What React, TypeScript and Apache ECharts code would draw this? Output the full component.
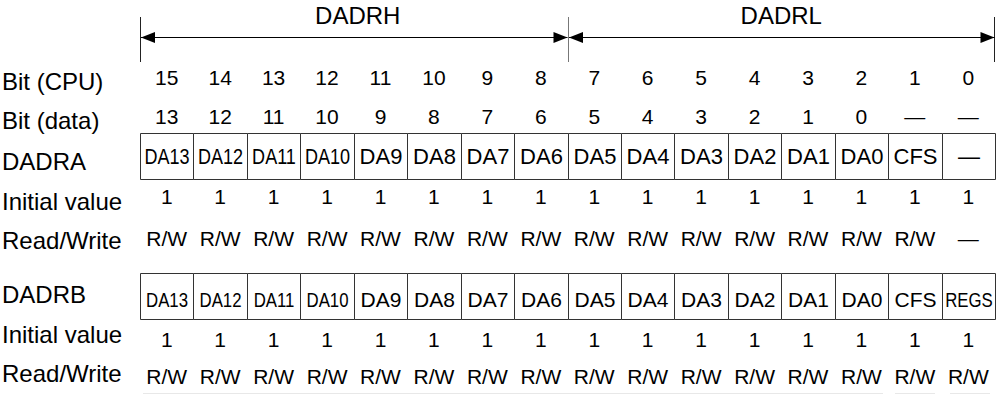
import { useEffect, useRef } from "react";
import * as echarts from "echarts";

const FONT = "Arial, 'Liberation Sans', Helvetica, sans-serif";

// ---------- data ----------
const groupNames = ["DADRH", "DADRL"];
const groupStartCol = [0, 8];
const groupEndCol = [8, 16];
const groupTickCols = [0, 8, 16];

const rowLabels = [
  "Bit (CPU)",
  "Bit (data)",
  "DADRA",
  "Initial value",
  "Read/Write",
  "DADRB",
  "Initial value",
  "Read/Write",
];

const bitCPU = ["15", "14", "13", "12", "11", "10", "9", "8", "7", "6", "5", "4", "3", "2", "1", "0"];
const bitData = ["13", "12", "11", "10", "9", "8", "7", "6", "5", "4", "3", "2", "1", "0", "—", "—"];

const dadraFields = ["DA13", "DA12", "DA11", "DA10", "DA9", "DA8", "DA7", "DA6", "DA5", "DA4", "DA3", "DA2", "DA1", "DA0", "CFS", "—"];
const dadraInitial = ["1", "1", "1", "1", "1", "1", "1", "1", "1", "1", "1", "1", "1", "1", "1", "1"];
const dadraRW = ["R/W", "R/W", "R/W", "R/W", "R/W", "R/W", "R/W", "R/W", "R/W", "R/W", "R/W", "R/W", "R/W", "R/W", "R/W", "—"];

const dadrbFields = ["DA13", "DA12", "DA11", "DA10", "DA9", "DA8", "DA7", "DA6", "DA5", "DA4", "DA3", "DA2", "DA1", "DA0", "CFS", "REGS"];
const dadrbInitial = ["1", "1", "1", "1", "1", "1", "1", "1", "1", "1", "1", "1", "1", "1", "1", "1"];
const dadrbRW = ["R/W", "R/W", "R/W", "R/W", "R/W", "R/W", "R/W", "R/W", "R/W", "R/W", "R/W", "R/W", "R/W", "R/W", "R/W", "R/W"];

// ---------- layout (pixels) ----------
const W = 1003;
const H = 395;
const GRID_LEFT = 140;
const GRID_RIGHT = 995;
const LABEL_Y = [81, 120, 161, 201, 240, 294.5, 334, 373];
const HEADER = { lineY: 37.5, tickTop: 17, tickBottom: 62, textY: 15.5 };
const ROW_Y = { cpu: 77, data: 116, aInit: 196.5, aRW: 238, bInit: 339.5, bRW: 376 };
const BOX_A = { top: 133.5, bottom: 179.5, textY: 156 };
const BOX_B = { top: 273.5, bottom: 319.5, textY: 299.5 };

const px = (v: number) => Math.round(v) + 0.5;

function textRow(name: string, texts: string[], y: number, fontSize: number) {
  return {
    type: "custom",
    name,
    coordinateSystem: "cartesian2d",
    silent: true,
    data: texts.map((_, i) => [i + 0.5, y]),
    renderItem: (params: any, api: any) => {
      const p = api.coord([api.value(0), api.value(1)]);
      return {
        type: "text",
        x: p[0],
        y: p[1],
        style: {
          text: texts[params.dataIndex],
          fontSize,
          fontFamily: FONT,
          fill: "#000",
          align: "center",
          verticalAlign: "middle",
        },
      };
    },
  };
}

function boxRow(name: string, fields: string[], box: { top: number; bottom: number; textY: number }, fontSize: number, condense: number) {
  return {
    type: "custom",
    name,
    coordinateSystem: "cartesian2d",
    silent: true,
    data: fields.map((_, i) => [i, i + 1]),
    renderItem: (params: any, api: any) => {
      const a = api.coord([api.value(0), box.top]);
      const b = api.coord([api.value(1), box.bottom]);
      const t = api.coord([(api.value(0) + api.value(1)) / 2, box.textY]);
      const x0 = px(a[0]);
      const x1 = px(b[0]);
      const label = fields[params.dataIndex];
      return {
        type: "group",
        children: [
          {
            type: "rect",
            shape: { x: x0, y: a[1], width: x1 - x0, height: b[1] - a[1] },
            style: { fill: "#fff", stroke: "#333", lineWidth: 1 },
          },
          {
            type: "text",
            x: (x0 + x1) / 2,
            y: t[1],
            scaleX: label.length >= 4 ? condense : 1,
            style: {
              text: label,
              fontSize,
              fontFamily: FONT,
              fill: "#000",
              align: "center",
              verticalAlign: "middle",
            },
          },
        ],
      };
    },
  };
}

export default function App() {
  const ref = useRef<HTMLDivElement>(null);

  useEffect(() => {
    document.body.style.margin = "0";
    if (!ref.current) return;
    const chart = echarts.init(ref.current, undefined, { renderer: "svg" });

    const option: any = {
      animation: false,
      backgroundColor: "#fff",
      grid: { left: GRID_LEFT, right: W - GRID_RIGHT, top: 0, bottom: 0 },
      xAxis: { type: "value", min: 0, max: 16, show: false },
      yAxis: { type: "value", min: 0, max: H, inverse: true, show: false },
      graphic: [
        ...rowLabels.map((t, i) => ({
          type: "text",
          left: 2,
          top: LABEL_Y[i] - 14,
          style: { text: t, fontSize: 24, fontFamily: FONT, fill: "#000", lineHeight: 28 },
        })),
        { type: "line", shape: { x1: 143, y1: 393.5, x2: 883, y2: 393.5 }, style: { stroke: "#e8e8e8", lineWidth: 1 } },
        { type: "line", shape: { x1: 895, y1: 393.5, x2: 935, y2: 393.5 }, style: { stroke: "#e8e8e8", lineWidth: 1 } },
        { type: "line", shape: { x1: 950, y1: 393.5, x2: 990, y2: 393.5 }, style: { stroke: "#e8e8e8", lineWidth: 1 } },
      ],
      series: [
        {
          type: "custom",
          name: "groupTicks",
          coordinateSystem: "cartesian2d",
          silent: true,
          data: groupTickCols.map((c) => [c]),
          renderItem: (params: any, api: any) => {
            const a = api.coord([api.value(0), HEADER.tickTop]);
            const b = api.coord([api.value(0), HEADER.tickBottom]);
            const x = px(a[0]) - (params.dataIndex === groupTickCols.length - 1 ? 1 : 0);
            return {
              type: "line",
              shape: { x1: x, y1: a[1], x2: x, y2: b[1] },
              style: { stroke: params.dataIndex === 1 ? "#777" : "#222", lineWidth: 1 },
            };
          },
        },
        {
          type: "custom",
          name: "groups",
          coordinateSystem: "cartesian2d",
          silent: true,
          data: groupStartCol.map((s, i) => [s, groupEndCol[i]]),
          renderItem: (params: any, api: any) => {
            const a = api.coord([api.value(0), HEADER.lineY]);
            const b = api.coord([api.value(1), HEADER.lineY]);
            const t = api.coord([(api.value(0) + api.value(1)) / 2, HEADER.textY]);
            const x0 = px(a[0]) + 0.5;
            const x1 = px(b[0]) - 1;
            const y = a[1];
            const L = 14;
            const hh = 5.5;
            return {
              type: "group",
              children: [
                { type: "line", shape: { x1: x0, y1: y, x2: x1, y2: y }, style: { stroke: "#000", lineWidth: 1.2 } },
                { type: "polygon", shape: { points: [[x0, y], [x0 + L, y - hh], [x0 + L, y + hh]] }, style: { fill: "#000" } },
                { type: "polygon", shape: { points: [[x1, y], [x1 - L, y - hh], [x1 - L, y + hh]] }, style: { fill: "#000" } },
                {
                  type: "text",
                  x: t[0] + (params.dataIndex === 0 ? 4 : 0),
                  y: t[1],
                  style: {
                    text: groupNames[params.dataIndex],
                    fontSize: 24,
                    fontFamily: FONT,
                    fill: "#000",
                    align: "center",
                    verticalAlign: "middle",
                  },
                },
              ],
            };
          },
        },
        textRow("bitCPU", bitCPU, ROW_Y.cpu, 21),
        textRow("bitData", bitData, ROW_Y.data, 21),
        boxRow("DADRA", dadraFields, BOX_A, 22, 0.82),
        textRow("dadraInitial", dadraInitial, ROW_Y.aInit, 21),
        textRow("dadraRW", dadraRW, ROW_Y.aRW, 21),
        boxRow("DADRB", dadrbFields, BOX_B, 21, 0.8),
        textRow("dadrbInitial", dadrbInitial, ROW_Y.bInit, 21),
        textRow("dadrbRW", dadrbRW, ROW_Y.bRW, 21),
      ],
    };

    chart.setOption(option);
    return () => chart.dispose();
  }, []);

  return <div ref={ref} style={{ width: W, height: H }} />;
}
